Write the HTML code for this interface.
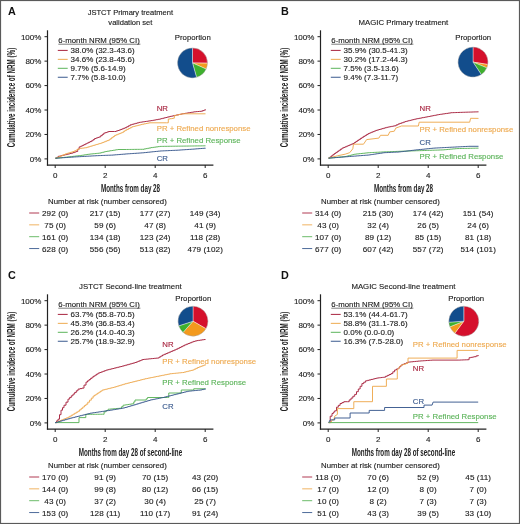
<!DOCTYPE html>
<html><head><meta charset="utf-8"><style>
html,body{margin:0;padding:0;background:#fff;}
body{width:520px;height:524px;overflow:hidden;}
svg{display:block;font-family:"Liberation Sans", sans-serif;filter:blur(0.2px);}
</style></head><body>
<svg width="520" height="524" viewBox="0 0 520 524">
<rect x="0" y="0" width="520" height="524" fill="#fff"/>
<text x="8.00" y="15.40" font-size="10.8" font-weight="bold" fill="#111">A</text>
<text x="130.40" y="15.35" font-size="7.55" text-anchor="middle" fill="#222" stroke="#222" stroke-width="0.13" font-weight="normal" >JSTCT Primary treatment</text>
<text x="130.40" y="24.95" font-size="7.55" text-anchor="middle" fill="#222" stroke="#222" stroke-width="0.13" font-weight="normal" >validation set</text>
<line x1="47.50" y1="30.30" x2="47.50" y2="165.60" stroke="#222" stroke-width="1.2"/>
<line x1="46.90" y1="165.20" x2="213.40" y2="165.20" stroke="#222" stroke-width="1.2"/>
<line x1="44.50" y1="36.70" x2="47.50" y2="36.70" stroke="#222" stroke-width="1.0"/>
<text x="41.40" y="39.52" font-size="8.0" text-anchor="end" fill="#222" stroke="#222" stroke-width="0.13" font-weight="normal" >100%</text>
<line x1="44.50" y1="61.14" x2="47.50" y2="61.14" stroke="#222" stroke-width="1.0"/>
<text x="41.40" y="63.96" font-size="8.0" text-anchor="end" fill="#222" stroke="#222" stroke-width="0.13" font-weight="normal" >80%</text>
<line x1="44.50" y1="85.58" x2="47.50" y2="85.58" stroke="#222" stroke-width="1.0"/>
<text x="41.40" y="88.40" font-size="8.0" text-anchor="end" fill="#222" stroke="#222" stroke-width="0.13" font-weight="normal" >60%</text>
<line x1="44.50" y1="110.02" x2="47.50" y2="110.02" stroke="#222" stroke-width="1.0"/>
<text x="41.40" y="112.84" font-size="8.0" text-anchor="end" fill="#222" stroke="#222" stroke-width="0.13" font-weight="normal" >40%</text>
<line x1="44.50" y1="134.46" x2="47.50" y2="134.46" stroke="#222" stroke-width="1.0"/>
<text x="41.40" y="137.28" font-size="8.0" text-anchor="end" fill="#222" stroke="#222" stroke-width="0.13" font-weight="normal" >20%</text>
<line x1="44.50" y1="158.90" x2="47.50" y2="158.90" stroke="#222" stroke-width="1.0"/>
<text x="41.40" y="161.72" font-size="8.0" text-anchor="end" fill="#222" stroke="#222" stroke-width="0.13" font-weight="normal" >0%</text>
<line x1="55.20" y1="165.00" x2="55.20" y2="168.00" stroke="#222" stroke-width="1.0"/>
<text x="55.20" y="178.22" font-size="8.0" text-anchor="middle" fill="#222" stroke="#222" stroke-width="0.13" font-weight="normal" >0</text>
<line x1="105.20" y1="165.00" x2="105.20" y2="168.00" stroke="#222" stroke-width="1.0"/>
<text x="105.20" y="178.22" font-size="8.0" text-anchor="middle" fill="#222" stroke="#222" stroke-width="0.13" font-weight="normal" >2</text>
<line x1="155.20" y1="165.00" x2="155.20" y2="168.00" stroke="#222" stroke-width="1.0"/>
<text x="155.20" y="178.22" font-size="8.0" text-anchor="middle" fill="#222" stroke="#222" stroke-width="0.13" font-weight="normal" >4</text>
<line x1="205.20" y1="165.00" x2="205.20" y2="168.00" stroke="#222" stroke-width="1.0"/>
<text x="205.20" y="178.22" font-size="8.0" text-anchor="middle" fill="#222" stroke="#222" stroke-width="0.13" font-weight="normal" >6</text>
<text transform="translate(130.50,191.82) scale(0.615,1)" x="0" y="0" font-size="10.2" font-weight="bold" text-anchor="middle" fill="#222">Months from day 28</text>
<text transform="translate(14.60,97.50) rotate(-90) scale(0.615,1)" x="0" y="0" font-size="10.2" font-weight="bold" text-anchor="middle" fill="#222">Cumulative incidence of NRM (%)</text>
<text x="58.30" y="43.04" font-size="7.8" text-anchor="start" fill="#222" stroke="#222" stroke-width="0.13" font-weight="normal" >6-month NRM (95% CI)</text>
<line x1="58.30" y1="44.20" x2="140.40" y2="44.20" stroke="#444" stroke-width="0.7"/>
<line x1="57.80" y1="50.40" x2="67.70" y2="50.40" stroke="#a8243f" stroke-width="1.0"/>
<text x="70.60" y="53.32" font-size="8.0" text-anchor="start" fill="#222" stroke="#222" stroke-width="0.13" font-weight="normal" >38.0% (32.3-43.6)</text>
<line x1="57.80" y1="59.35" x2="67.70" y2="59.35" stroke="#eeaa50" stroke-width="1.0"/>
<text x="70.60" y="62.27" font-size="8.0" text-anchor="start" fill="#222" stroke="#222" stroke-width="0.13" font-weight="normal" >34.6% (23.8-45.6)</text>
<line x1="57.80" y1="68.30" x2="67.70" y2="68.30" stroke="#5cb45a" stroke-width="1.0"/>
<text x="70.60" y="71.22" font-size="8.0" text-anchor="start" fill="#222" stroke="#222" stroke-width="0.13" font-weight="normal" >9.7% (5.6-14.9)</text>
<line x1="57.80" y1="77.25" x2="67.70" y2="77.25" stroke="#3a5a8e" stroke-width="1.0"/>
<text x="70.60" y="80.17" font-size="8.0" text-anchor="start" fill="#222" stroke="#222" stroke-width="0.13" font-weight="normal" >7.7% (5.8-10.0)</text>
<text x="192.80" y="40.04" font-size="7.8" text-anchor="middle" fill="#222" stroke="#222" stroke-width="0.13" font-weight="normal" >Proportion</text>
<path d="M192.50,62.90 L192.50,47.90 A15,15 0 0 1 207.50,63.14 Z" fill="#d5102c" stroke="#fff" stroke-width="0.4"/>
<path d="M192.50,62.90 L207.50,63.14 A15,15 0 0 1 206.17,69.07 Z" fill="#f39a1e" stroke="#fff" stroke-width="0.4"/>
<path d="M192.50,62.90 L206.17,69.07 A15,15 0 0 1 196.53,77.35 Z" fill="#3fb02e" stroke="#fff" stroke-width="0.4"/>
<path d="M192.50,62.90 L196.53,77.35 A15,15 0 1 1 192.50,47.90 Z" fill="#124d8c" stroke="#fff" stroke-width="0.4"/>
<circle cx="192.50" cy="62.90" r="15" fill="none" stroke="#333" stroke-opacity="0.5" stroke-width="0.4"/>
<polyline points="55.40,158.20 56.95,158.20 56.95,157.20 58.50,157.20 58.50,156.20 60.80,156.20 60.80,155.70 62.33,155.70 62.33,155.33 63.87,155.33 63.87,154.97 65.40,154.97 65.40,154.60 66.93,154.60 66.93,154.22 68.45,154.22 68.45,153.85 69.97,153.85 69.97,153.47 71.50,153.47 71.50,153.10 73.07,153.10 73.07,152.57 74.63,152.57 74.63,152.03 76.20,152.03 76.20,151.50 77.70,151.50 77.70,149.20 79.20,149.20 79.20,146.90 80.75,146.90 80.75,146.15 82.30,146.15 82.30,145.40 83.83,145.40 83.83,144.63 85.37,144.63 85.37,143.87 86.90,143.87 86.90,143.10 88.43,143.10 88.43,142.33 89.97,142.33 89.97,141.57 91.50,141.57 91.50,140.80 93.05,140.80 93.05,139.65 94.60,139.65 94.60,138.50 96.13,138.50 96.13,137.97 97.67,137.97 97.67,137.43 99.20,137.43 99.20,136.90 100.73,136.90 100.73,135.63 102.27,135.63 102.27,134.37 103.80,134.37 103.80,133.10 105.37,133.10 105.37,132.57 106.93,132.57 106.93,132.03 108.50,132.03 108.50,131.50 114.60,131.50 116.13,131.50 116.13,131.00 117.67,131.00 117.67,130.50 119.20,130.50 119.20,130.00 120.65,130.00 120.65,129.43 122.10,129.43 122.10,128.85 123.55,128.85 123.55,128.28 125.00,128.28 125.00,127.70 126.73,127.70 126.73,126.73 128.47,126.73 128.47,125.77 130.20,125.77 130.20,124.80 131.92,124.80 131.92,124.32 133.64,124.32 133.64,123.84 135.36,123.84 135.36,123.36 137.08,123.36 137.08,122.88 138.80,122.88 138.80,122.40 140.33,122.40 140.33,122.18 141.85,122.18 141.85,121.95 143.38,121.95 143.38,121.72 144.90,121.72 144.90,121.50 146.43,121.50 146.43,121.28 147.95,121.28 147.95,121.05 149.47,121.05 149.47,120.82 151.00,120.82 151.00,120.60 152.72,120.60 152.72,120.28 154.44,120.28 154.44,119.96 156.16,119.96 156.16,119.64 157.88,119.64 157.88,119.32 159.60,119.32 159.60,119.00 161.09,119.00 161.09,118.63 162.57,118.63 162.57,118.26 164.06,118.26 164.06,117.89 165.54,117.89 165.54,117.51 167.03,117.51 167.03,117.14 168.51,117.14 168.51,116.77 170.00,116.77 170.00,116.40 171.50,116.40 171.50,116.08 173.00,116.08 173.00,115.75 174.50,115.75 174.50,115.42 176.00,115.42 176.00,115.10 177.50,115.10 177.50,114.78 179.00,114.78 179.00,114.45 180.50,114.45 180.50,114.12 182.00,114.12 182.00,113.80 183.53,113.80 183.53,113.55 185.05,113.55 185.05,113.30 186.57,113.30 186.57,113.05 188.10,113.05 188.10,112.80 189.62,112.80 189.62,112.55 191.15,112.55 191.15,112.30 192.67,112.30 192.67,112.05 194.20,112.05 194.20,111.80 195.90,111.80 195.90,111.65 197.60,111.65 197.60,111.50 199.30,111.50 199.30,111.35 201.00,111.35 201.00,111.20 202.50,111.20 202.50,110.63 204.00,110.63 204.00,110.07 205.50,110.07 205.50,109.50" fill="none" stroke="#a8243f" stroke-width="0.95" stroke-linejoin="miter"/>
<polyline points="55.40,158.20 57.07,158.20 57.07,157.47 58.73,157.47 58.73,156.73 60.40,156.73 60.40,156.00 62.07,156.00 62.07,155.27 63.73,155.27 63.73,154.53 65.40,154.53 65.40,153.80 66.94,153.80 66.94,153.34 68.48,153.34 68.48,152.88 70.02,152.88 70.02,152.42 71.56,152.42 71.56,151.96 73.10,151.96 73.10,151.50 74.62,151.50 74.62,150.75 76.15,150.75 76.15,150.00 77.67,150.00 77.67,149.25 79.20,149.25 79.20,148.50 80.75,148.50 80.75,148.30 82.30,148.30 82.30,148.10 83.85,148.10 83.85,147.90 85.40,147.90 85.40,147.70 86.94,147.70 86.94,147.24 88.48,147.24 88.48,146.78 90.02,146.78 90.02,146.32 91.56,146.32 91.56,145.86 93.10,145.86 93.10,145.40 94.64,145.40 94.64,144.94 96.18,144.94 96.18,144.48 97.72,144.48 97.72,144.02 99.26,144.02 99.26,143.56 100.80,143.56 100.80,143.10 102.34,143.10 102.34,142.48 103.88,142.48 103.88,141.86 105.42,141.86 105.42,141.24 106.96,141.24 106.96,140.62 108.50,140.62 108.50,140.00 110.03,140.00 110.03,138.85 111.55,138.85 111.55,137.70 113.07,137.70 113.07,136.55 114.60,136.55 114.60,135.40 116.14,135.40 116.14,134.78 117.68,134.78 117.68,134.16 119.22,134.16 119.22,133.54 120.76,133.54 120.76,132.92 122.30,132.92 122.30,132.30 123.65,132.30 123.65,131.30 125.00,131.30 125.00,130.30 126.72,130.30 126.72,129.43 128.45,129.43 128.45,128.55 130.18,128.55 130.18,127.67 131.90,127.67 131.90,126.80 133.39,126.80 133.39,126.43 134.87,126.43 134.87,126.06 136.36,126.06 136.36,125.69 137.84,125.69 137.84,125.31 139.33,125.31 139.33,124.94 140.81,124.94 140.81,124.57 142.30,124.57 142.30,124.20 144.03,124.20 144.03,123.85 145.75,123.85 145.75,123.50 147.47,123.50 147.47,123.15 149.20,123.15 149.20,122.80 166.50,122.80 168.30,122.80 168.30,119.00 170.00,119.00 170.00,118.73 171.70,118.73 171.70,118.47 173.40,118.47 173.40,118.20 174.30,118.20 174.30,115.60 175.84,115.60 175.84,115.24 177.38,115.24 177.38,114.88 178.92,114.88 178.92,114.52 180.46,114.52 180.46,114.16 182.00,114.16 182.00,113.80 205.50,113.80" fill="none" stroke="#eeaa50" stroke-width="0.95" stroke-linejoin="miter"/>
<polyline points="55.40,158.20 57.07,158.20 57.07,158.03 58.73,158.03 58.73,157.87 60.40,157.87 60.40,157.70 62.07,157.70 62.07,157.53 63.73,157.53 63.73,157.37 65.40,157.37 65.40,157.20 66.94,157.20 66.94,157.02 68.48,157.02 68.48,156.84 70.02,156.84 70.02,156.66 71.56,156.66 71.56,156.48 73.10,156.48 73.10,156.30 74.64,156.30 74.64,156.12 76.18,156.12 76.18,155.94 77.72,155.94 77.72,155.76 79.26,155.76 79.26,155.58 80.80,155.58 80.80,155.40 82.34,155.40 82.34,155.16 83.88,155.16 83.88,154.92 85.42,154.92 85.42,154.68 86.96,154.68 86.96,154.44 88.50,154.44 88.50,154.20 90.03,154.20 90.03,154.04 91.56,154.04 91.56,153.89 93.09,153.89 93.09,153.73 94.61,153.73 94.61,153.57 96.14,153.57 96.14,153.41 97.67,153.41 97.67,153.26 99.20,153.26 99.20,153.10 100.75,153.10 100.75,152.70 102.30,152.70 102.30,152.30 103.85,152.30 103.85,151.90 105.40,151.90 105.40,151.50 106.94,151.50 106.94,151.25 108.48,151.25 108.48,151.00 110.01,151.00 110.01,150.75 111.55,150.75 111.55,150.50 113.09,150.50 113.09,150.25 114.62,150.25 114.62,150.00 116.16,150.00 116.16,149.75 117.70,149.75 117.70,149.50 125.00,149.50 126.57,149.50 126.57,149.48 128.15,149.48 128.15,149.46 129.72,149.46 129.72,149.45 131.29,149.45 131.29,149.43 132.86,149.43 132.86,149.41 134.44,149.41 134.44,149.39 136.01,149.39 136.01,149.37 137.58,149.37 137.58,149.35 139.15,149.35 139.15,149.34 140.73,149.34 140.73,149.32 142.30,149.32 142.30,149.30 144.04,149.30 144.04,148.96 145.78,148.96 145.78,148.62 147.52,148.62 147.52,148.28 149.26,148.28 149.26,147.94 151.00,147.94 151.00,147.60 152.72,147.60 152.72,147.36 154.44,147.36 154.44,147.12 156.16,147.12 156.16,146.88 157.88,146.88 157.88,146.64 159.60,146.64 159.60,146.40 161.18,146.40 161.18,146.38 162.77,146.38 162.77,146.36 164.35,146.36 164.35,146.34 165.93,146.34 165.93,146.32 167.51,146.32 167.51,146.30 169.10,146.30 169.10,146.28 170.68,146.28 170.68,146.26 172.26,146.26 172.26,146.23 173.84,146.23 173.84,146.21 175.43,146.21 175.43,146.19 177.01,146.19 177.01,146.17 178.59,146.17 178.59,146.15 180.18,146.15 180.18,146.13 181.76,146.13 181.76,146.11 183.34,146.11 183.34,146.09 184.92,146.09 184.92,146.07 186.51,146.07 186.51,146.05 188.09,146.05 188.09,146.03 189.67,146.03 189.67,146.01 191.26,146.01 191.26,145.99 192.84,145.99 192.84,145.97 194.42,145.97 194.42,145.94 196.00,145.94 196.00,145.92 197.59,145.92 197.59,145.90 199.17,145.90 199.17,145.88 200.75,145.88 200.75,145.86 202.33,145.86 202.33,145.84 203.92,145.84 203.92,145.82 205.50,145.82 205.50,145.80" fill="none" stroke="#5cb45a" stroke-width="0.95" stroke-linejoin="miter"/>
<polyline points="55.40,158.20 57.00,158.20 57.00,158.09 58.60,158.09 58.60,157.98 60.20,157.98 60.20,157.87 61.80,157.87 61.80,157.76 63.40,157.76 63.40,157.65 65.00,157.65 65.00,157.55 66.60,157.55 66.60,157.44 68.20,157.44 68.20,157.33 69.80,157.33 69.80,157.22 71.40,157.22 71.40,157.11 73.00,157.11 73.00,157.00 74.64,157.00 74.64,156.91 76.29,156.91 76.29,156.81 77.93,156.81 77.93,156.72 79.57,156.72 79.57,156.63 81.21,156.63 81.21,156.54 82.86,156.54 82.86,156.44 84.50,156.44 84.50,156.35 86.14,156.35 86.14,156.26 87.79,156.26 87.79,156.16 89.43,156.16 89.43,156.07 91.07,156.07 91.07,155.98 92.71,155.98 92.71,155.89 94.36,155.89 94.36,155.79 96.00,155.79 96.00,155.70 97.55,155.70 97.55,155.64 99.10,155.64 99.10,155.58 100.65,155.58 100.65,155.52 102.20,155.52 102.20,155.46 103.75,155.46 103.75,155.40 105.30,155.40 105.30,155.34 106.85,155.34 106.85,155.28 108.40,155.28 108.40,155.22 109.95,155.22 109.95,155.16 111.50,155.16 111.50,155.10 113.19,155.10 113.19,154.96 114.88,154.96 114.88,154.82 116.56,154.82 116.56,154.69 118.25,154.69 118.25,154.55 119.94,154.55 119.94,154.41 121.62,154.41 121.62,154.28 123.31,154.28 123.31,154.14 125.00,154.14 125.00,154.00 126.57,154.00 126.57,153.89 128.15,153.89 128.15,153.78 129.72,153.78 129.72,153.67 131.29,153.67 131.29,153.56 132.86,153.56 132.86,153.45 134.44,153.45 134.44,153.35 136.01,153.35 136.01,153.24 137.58,153.24 137.58,153.13 139.15,153.13 139.15,153.02 140.73,153.02 140.73,152.91 142.30,152.91 142.30,152.80 143.87,152.80 143.87,152.64 145.45,152.64 145.45,152.47 147.02,152.47 147.02,152.31 148.59,152.31 148.59,152.15 150.16,152.15 150.16,151.98 151.74,151.98 151.74,151.82 153.31,151.82 153.31,151.65 154.88,151.65 154.88,151.49 156.45,151.49 156.45,151.33 158.03,151.33 158.03,151.16 159.60,151.16 159.60,151.00 161.18,151.00 161.18,150.93 162.76,150.93 162.76,150.85 164.35,150.85 164.35,150.78 165.93,150.78 165.93,150.71 167.51,150.71 167.51,150.64 169.09,150.64 169.09,150.56 170.67,150.56 170.67,150.49 172.25,150.49 172.25,150.42 173.84,150.42 173.84,150.35 175.42,150.35 175.42,150.27 177.00,150.27 177.00,150.20 178.56,150.20 178.56,150.09 180.13,150.09 180.13,149.98 181.69,149.98 181.69,149.87 183.25,149.87 183.25,149.76 184.82,149.76 184.82,149.65 186.38,149.65 186.38,149.55 187.95,149.55 187.95,149.44 189.51,149.44 189.51,149.33 191.07,149.33 191.07,149.22 192.64,149.22 192.64,149.11 194.20,149.11 194.20,149.00 195.81,149.00 195.81,148.87 197.43,148.87 197.43,148.74 199.04,148.74 199.04,148.61 200.66,148.61 200.66,148.49 202.27,148.49 202.27,148.36 203.89,148.36 203.89,148.23 205.50,148.23 205.50,148.10" fill="none" stroke="#3a5a8e" stroke-width="0.95" stroke-linejoin="miter"/>
<text x="156.70" y="111.14" font-size="7.8" text-anchor="start" fill="#a8243f" stroke="#a8243f" stroke-width="0.13" font-weight="normal" >NR</text>
<text x="156.70" y="131.04" font-size="7.8" text-anchor="start" fill="#eeaa50" stroke="#eeaa50" stroke-width="0.13" font-weight="normal" >PR + Refined nonresponse</text>
<text x="156.70" y="143.24" font-size="7.8" text-anchor="start" fill="#5cb45a" stroke="#5cb45a" stroke-width="0.13" font-weight="normal" >PR + Refined Response</text>
<text x="156.70" y="160.94" font-size="7.8" text-anchor="start" fill="#3a5a8e" stroke="#3a5a8e" stroke-width="0.13" font-weight="normal" >CR</text>
<text x="48.00" y="203.54" font-size="7.8" text-anchor="start" fill="#222" stroke="#222" stroke-width="0.13" font-weight="normal" >Number at risk (number censored)</text>
<line x1="29.20" y1="213.00" x2="39.20" y2="213.00" stroke="#a8243f" stroke-width="0.9"/>
<text x="55.20" y="215.95" font-size="8.1" text-anchor="middle" fill="#222" stroke="#222" stroke-width="0.13" font-weight="normal" letter-spacing="0.1">292 (0)</text>
<text x="105.20" y="215.95" font-size="8.1" text-anchor="middle" fill="#222" stroke="#222" stroke-width="0.13" font-weight="normal" letter-spacing="0.1">217 (15)</text>
<text x="155.20" y="215.95" font-size="8.1" text-anchor="middle" fill="#222" stroke="#222" stroke-width="0.13" font-weight="normal" letter-spacing="0.1">177 (27)</text>
<text x="205.20" y="215.95" font-size="8.1" text-anchor="middle" fill="#222" stroke="#222" stroke-width="0.13" font-weight="normal" letter-spacing="0.1">149 (34)</text>
<line x1="29.20" y1="224.85" x2="39.20" y2="224.85" stroke="#eeaa50" stroke-width="0.9"/>
<text x="55.20" y="227.80" font-size="8.1" text-anchor="middle" fill="#222" stroke="#222" stroke-width="0.13" font-weight="normal" letter-spacing="0.1">75 (0)</text>
<text x="105.20" y="227.80" font-size="8.1" text-anchor="middle" fill="#222" stroke="#222" stroke-width="0.13" font-weight="normal" letter-spacing="0.1">59 (6)</text>
<text x="155.20" y="227.80" font-size="8.1" text-anchor="middle" fill="#222" stroke="#222" stroke-width="0.13" font-weight="normal" letter-spacing="0.1">47 (8)</text>
<text x="205.20" y="227.80" font-size="8.1" text-anchor="middle" fill="#222" stroke="#222" stroke-width="0.13" font-weight="normal" letter-spacing="0.1">41 (9)</text>
<line x1="29.20" y1="236.70" x2="39.20" y2="236.70" stroke="#5cb45a" stroke-width="0.9"/>
<text x="55.20" y="239.65" font-size="8.1" text-anchor="middle" fill="#222" stroke="#222" stroke-width="0.13" font-weight="normal" letter-spacing="0.1">161 (0)</text>
<text x="105.20" y="239.65" font-size="8.1" text-anchor="middle" fill="#222" stroke="#222" stroke-width="0.13" font-weight="normal" letter-spacing="0.1">134 (18)</text>
<text x="155.20" y="239.65" font-size="8.1" text-anchor="middle" fill="#222" stroke="#222" stroke-width="0.13" font-weight="normal" letter-spacing="0.1">123 (24)</text>
<text x="205.20" y="239.65" font-size="8.1" text-anchor="middle" fill="#222" stroke="#222" stroke-width="0.13" font-weight="normal" letter-spacing="0.1">118 (28)</text>
<line x1="29.20" y1="248.55" x2="39.20" y2="248.55" stroke="#3a5a8e" stroke-width="0.9"/>
<text x="55.20" y="251.50" font-size="8.1" text-anchor="middle" fill="#222" stroke="#222" stroke-width="0.13" font-weight="normal" letter-spacing="0.1">628 (0)</text>
<text x="105.20" y="251.50" font-size="8.1" text-anchor="middle" fill="#222" stroke="#222" stroke-width="0.13" font-weight="normal" letter-spacing="0.1">556 (56)</text>
<text x="155.20" y="251.50" font-size="8.1" text-anchor="middle" fill="#222" stroke="#222" stroke-width="0.13" font-weight="normal" letter-spacing="0.1">513 (82)</text>
<text x="205.20" y="251.50" font-size="8.1" text-anchor="middle" fill="#222" stroke="#222" stroke-width="0.13" font-weight="normal" letter-spacing="0.1">479 (102)</text>
<text x="281.00" y="15.40" font-size="10.8" font-weight="bold" fill="#111">B</text>
<text x="403.40" y="24.94" font-size="7.8" text-anchor="middle" fill="#222" stroke="#222" stroke-width="0.13" font-weight="normal" >MAGIC Primary treatment</text>
<line x1="320.50" y1="30.30" x2="320.50" y2="165.60" stroke="#222" stroke-width="1.2"/>
<line x1="319.90" y1="165.20" x2="486.40" y2="165.20" stroke="#222" stroke-width="1.2"/>
<line x1="317.50" y1="36.70" x2="320.50" y2="36.70" stroke="#222" stroke-width="1.0"/>
<text x="314.40" y="39.52" font-size="8.0" text-anchor="end" fill="#222" stroke="#222" stroke-width="0.13" font-weight="normal" >100%</text>
<line x1="317.50" y1="61.14" x2="320.50" y2="61.14" stroke="#222" stroke-width="1.0"/>
<text x="314.40" y="63.96" font-size="8.0" text-anchor="end" fill="#222" stroke="#222" stroke-width="0.13" font-weight="normal" >80%</text>
<line x1="317.50" y1="85.58" x2="320.50" y2="85.58" stroke="#222" stroke-width="1.0"/>
<text x="314.40" y="88.40" font-size="8.0" text-anchor="end" fill="#222" stroke="#222" stroke-width="0.13" font-weight="normal" >60%</text>
<line x1="317.50" y1="110.02" x2="320.50" y2="110.02" stroke="#222" stroke-width="1.0"/>
<text x="314.40" y="112.84" font-size="8.0" text-anchor="end" fill="#222" stroke="#222" stroke-width="0.13" font-weight="normal" >40%</text>
<line x1="317.50" y1="134.46" x2="320.50" y2="134.46" stroke="#222" stroke-width="1.0"/>
<text x="314.40" y="137.28" font-size="8.0" text-anchor="end" fill="#222" stroke="#222" stroke-width="0.13" font-weight="normal" >20%</text>
<line x1="317.50" y1="158.90" x2="320.50" y2="158.90" stroke="#222" stroke-width="1.0"/>
<text x="314.40" y="161.72" font-size="8.0" text-anchor="end" fill="#222" stroke="#222" stroke-width="0.13" font-weight="normal" >0%</text>
<line x1="328.20" y1="165.00" x2="328.20" y2="168.00" stroke="#222" stroke-width="1.0"/>
<text x="328.20" y="178.22" font-size="8.0" text-anchor="middle" fill="#222" stroke="#222" stroke-width="0.13" font-weight="normal" >0</text>
<line x1="378.20" y1="165.00" x2="378.20" y2="168.00" stroke="#222" stroke-width="1.0"/>
<text x="378.20" y="178.22" font-size="8.0" text-anchor="middle" fill="#222" stroke="#222" stroke-width="0.13" font-weight="normal" >2</text>
<line x1="428.20" y1="165.00" x2="428.20" y2="168.00" stroke="#222" stroke-width="1.0"/>
<text x="428.20" y="178.22" font-size="8.0" text-anchor="middle" fill="#222" stroke="#222" stroke-width="0.13" font-weight="normal" >4</text>
<line x1="478.20" y1="165.00" x2="478.20" y2="168.00" stroke="#222" stroke-width="1.0"/>
<text x="478.20" y="178.22" font-size="8.0" text-anchor="middle" fill="#222" stroke="#222" stroke-width="0.13" font-weight="normal" >6</text>
<text transform="translate(403.50,191.82) scale(0.615,1)" x="0" y="0" font-size="10.2" font-weight="bold" text-anchor="middle" fill="#222">Months from day 28</text>
<text transform="translate(287.60,97.50) rotate(-90) scale(0.615,1)" x="0" y="0" font-size="10.2" font-weight="bold" text-anchor="middle" fill="#222">Cumulative incidence of NRM (%)</text>
<text x="331.30" y="43.04" font-size="7.8" text-anchor="start" fill="#222" stroke="#222" stroke-width="0.13" font-weight="normal" >6-month NRM (95% CI)</text>
<line x1="331.30" y1="44.20" x2="413.40" y2="44.20" stroke="#444" stroke-width="0.7"/>
<line x1="330.80" y1="50.40" x2="340.70" y2="50.40" stroke="#a8243f" stroke-width="1.0"/>
<text x="343.60" y="53.32" font-size="8.0" text-anchor="start" fill="#222" stroke="#222" stroke-width="0.13" font-weight="normal" >35.9% (30.5-41.3)</text>
<line x1="330.80" y1="59.35" x2="340.70" y2="59.35" stroke="#eeaa50" stroke-width="1.0"/>
<text x="343.60" y="62.27" font-size="8.0" text-anchor="start" fill="#222" stroke="#222" stroke-width="0.13" font-weight="normal" >30.2% (17.2-44.3)</text>
<line x1="330.80" y1="68.30" x2="340.70" y2="68.30" stroke="#5cb45a" stroke-width="1.0"/>
<text x="343.60" y="71.22" font-size="8.0" text-anchor="start" fill="#222" stroke="#222" stroke-width="0.13" font-weight="normal" >7.5% (3.5-13.6)</text>
<line x1="330.80" y1="77.25" x2="340.70" y2="77.25" stroke="#3a5a8e" stroke-width="1.0"/>
<text x="343.60" y="80.17" font-size="8.0" text-anchor="start" fill="#222" stroke="#222" stroke-width="0.13" font-weight="normal" >9.4% (7.3-11.7)</text>
<text x="473.20" y="39.64" font-size="7.8" text-anchor="middle" fill="#222" stroke="#222" stroke-width="0.13" font-weight="normal" >Proportion</text>
<path d="M473.00,62.10 L473.00,47.10 A15,15 0 0 1 487.81,64.46 Z" fill="#d5102c" stroke="#fff" stroke-width="0.4"/>
<path d="M473.00,62.10 L487.81,64.46 A15,15 0 0 1 486.84,67.87 Z" fill="#f39a1e" stroke="#fff" stroke-width="0.4"/>
<path d="M473.00,62.10 L486.84,67.87 A15,15 0 0 1 481.30,74.59 Z" fill="#3fb02e" stroke="#fff" stroke-width="0.4"/>
<path d="M473.00,62.10 L481.30,74.59 A15,15 0 1 1 473.00,47.10 Z" fill="#124d8c" stroke="#fff" stroke-width="0.4"/>
<circle cx="473.00" cy="62.10" r="15" fill="none" stroke="#333" stroke-opacity="0.5" stroke-width="0.4"/>
<polyline points="328.50,158.10 329.95,158.10 329.95,156.95 331.40,156.95 331.40,155.80 332.85,155.80 332.85,154.65 334.30,154.65 334.30,153.50 335.84,153.50 335.84,152.42 337.38,152.42 337.38,151.34 338.92,151.34 338.92,150.26 340.46,150.26 340.46,149.18 342.00,149.18 342.00,148.10 343.54,148.10 343.54,147.44 345.09,147.44 345.09,146.79 346.63,146.79 346.63,146.13 348.17,146.13 348.17,145.47 349.71,145.47 349.71,144.81 351.26,144.81 351.26,144.16 352.80,144.16 352.80,143.50 354.33,143.50 354.33,142.47 355.87,142.47 355.87,141.43 357.40,141.43 357.40,140.40 358.93,140.40 358.93,139.37 360.47,139.37 360.47,138.33 362.00,138.33 362.00,137.30 363.55,137.30 363.55,136.35 365.10,136.35 365.10,135.40 366.65,135.40 366.65,134.45 368.20,134.45 368.20,133.50 369.72,133.50 369.72,132.88 371.24,132.88 371.24,132.26 372.76,132.26 372.76,131.64 374.28,131.64 374.28,131.02 375.80,131.02 375.80,130.40 377.34,130.40 377.34,129.96 378.89,129.96 378.89,129.51 380.43,129.51 380.43,129.07 381.97,129.07 381.97,128.63 383.51,128.63 383.51,128.19 385.06,128.19 385.06,127.74 386.60,127.74 386.60,127.30 388.14,127.30 388.14,127.00 389.68,127.00 389.68,126.70 391.22,126.70 391.22,126.40 392.76,126.40 392.76,126.10 394.30,126.10 394.30,125.80 396.15,125.80 396.15,124.90 398.00,124.90 398.00,124.00 399.77,124.00 399.77,123.38 401.55,123.38 401.55,122.75 403.33,122.75 403.33,122.12 405.10,122.12 405.10,121.50 406.61,121.50 406.61,121.13 408.13,121.13 408.13,120.76 409.64,120.76 409.64,120.39 411.16,120.39 411.16,120.01 412.67,120.01 412.67,119.64 414.19,119.64 414.19,119.27 415.70,119.27 415.70,118.90 417.28,118.90 417.28,118.60 418.86,118.60 418.86,118.30 420.43,118.30 420.43,118.00 422.01,118.00 422.01,117.70 423.59,117.70 423.59,117.40 425.17,117.40 425.17,117.10 426.74,117.10 426.74,116.80 428.32,116.80 428.32,116.50 429.90,116.50 429.90,116.20 431.37,116.20 431.37,115.92 432.83,115.92 432.83,115.63 434.30,115.63 434.30,115.35 435.77,115.35 435.77,115.07 437.23,115.07 437.23,114.78 438.70,114.78 438.70,114.50 440.25,114.50 440.25,114.28 441.80,114.28 441.80,114.05 443.35,114.05 443.35,113.83 444.90,113.83 444.90,113.60 446.45,113.60 446.45,113.38 448.00,113.38 448.00,113.15 449.55,113.15 449.55,112.92 451.10,112.92 451.10,112.70 452.68,112.70 452.68,112.64 454.26,112.64 454.26,112.59 455.83,112.59 455.83,112.53 457.41,112.53 457.41,112.48 458.99,112.48 458.99,112.42 460.57,112.42 460.57,112.37 462.14,112.37 462.14,112.31 463.72,112.31 463.72,112.26 465.30,112.26 465.30,112.20 466.95,112.20 466.95,112.15 468.60,112.15 468.60,112.10 470.25,112.10 470.25,112.05 471.90,112.05 471.90,112.00 473.55,112.00 473.55,111.95 475.20,111.95 475.20,111.90 476.85,111.90 476.85,111.85 478.50,111.85 478.50,111.80" fill="none" stroke="#a8243f" stroke-width="0.95" stroke-linejoin="miter"/>
<polyline points="328.50,158.10 337.40,155.80 345.10,154.20 349.70,152.70 352.80,148.80 353.50,144.20 363.50,144.20 366.60,139.60 378.90,138.10 380.50,135.30 388.20,135.30 389.70,131.90 394.30,131.20 395.80,128.10 401.50,126.00 418.40,126.00 419.20,122.20 469.70,122.20 470.60,118.30 478.50,118.40" fill="none" stroke="#eeaa50" stroke-width="0.95" stroke-linejoin="miter"/>
<polyline points="328.50,158.10 330.15,158.10 330.15,157.94 331.80,157.94 331.80,157.78 333.45,157.78 333.45,157.62 335.10,157.62 335.10,157.46 336.75,157.46 336.75,157.30 338.40,157.30 338.40,157.14 340.05,157.14 340.05,156.98 341.70,156.98 341.70,156.82 343.35,156.82 343.35,156.66 345.00,156.66 345.00,156.50 346.55,156.50 346.55,156.12 348.10,156.12 348.10,155.73 349.65,155.73 349.65,155.35 351.20,155.35 351.20,154.97 352.75,154.97 352.75,154.58 354.30,154.58 354.30,154.20 355.84,154.20 355.84,154.03 357.39,154.03 357.39,153.87 358.93,153.87 358.93,153.70 360.48,153.70 360.48,153.53 362.02,153.53 362.02,153.37 363.57,153.37 363.57,153.20 365.11,153.20 365.11,153.03 366.66,153.03 366.66,152.87 368.20,152.87 368.20,152.70 369.73,152.70 369.73,152.62 371.26,152.62 371.26,152.54 372.79,152.54 372.79,152.46 374.32,152.46 374.32,152.38 375.85,152.38 375.85,152.30 377.38,152.30 377.38,152.22 378.91,152.22 378.91,152.14 380.44,152.14 380.44,152.06 381.97,152.06 381.97,151.98 383.50,151.98 383.50,151.90 385.04,151.90 385.04,151.84 386.58,151.84 386.58,151.78 388.12,151.78 388.12,151.72 389.67,151.72 389.67,151.67 391.21,151.67 391.21,151.61 392.75,151.61 392.75,151.55 394.29,151.55 394.29,151.49 395.83,151.49 395.83,151.43 397.38,151.43 397.38,151.38 398.92,151.38 398.92,151.32 400.46,151.32 400.46,151.26 402.00,151.26 402.00,151.20 403.61,151.20 403.61,151.15 405.22,151.15 405.22,151.10 406.82,151.10 406.82,151.04 408.43,151.04 408.43,150.99 410.04,150.99 410.04,150.94 411.65,150.94 411.65,150.89 413.26,150.89 413.26,150.84 414.86,150.84 414.86,150.78 416.47,150.78 416.47,150.73 418.08,150.73 418.08,150.68 419.69,150.68 419.69,150.63 421.30,150.63 421.30,150.58 422.90,150.58 422.90,150.52 424.51,150.52 424.51,150.47 426.12,150.47 426.12,150.42 427.73,150.42 427.73,150.37 429.34,150.37 429.34,150.32 430.94,150.32 430.94,150.26 432.55,150.26 432.55,150.21 434.16,150.21 434.16,150.16 435.77,150.16 435.77,150.11 437.38,150.11 437.38,150.06 438.98,150.06 438.98,150.00 440.59,150.00 440.59,149.95 442.20,149.95 442.20,149.90 443.78,149.90 443.78,149.76 445.36,149.76 445.36,149.61 446.93,149.61 446.93,149.47 448.51,149.47 448.51,149.32 450.09,149.32 450.09,149.18 451.67,149.18 451.67,149.03 453.24,149.03 453.24,148.89 454.82,148.89 454.82,148.74 456.40,148.74 456.40,148.60 457.98,148.60 457.98,148.56 459.56,148.56 459.56,148.53 461.14,148.53 461.14,148.49 462.71,148.49 462.71,148.46 464.29,148.46 464.29,148.42 465.87,148.42 465.87,148.39 467.45,148.39 467.45,148.35 469.03,148.35 469.03,148.31 470.61,148.31 470.61,148.28 472.19,148.28 472.19,148.24 473.76,148.24 473.76,148.21 475.34,148.21 475.34,148.17 476.92,148.17 476.92,148.14 478.50,148.14 478.50,148.10" fill="none" stroke="#5cb45a" stroke-width="0.95" stroke-linejoin="miter"/>
<polyline points="328.50,158.10 330.12,158.10 330.12,157.97 331.74,157.97 331.74,157.85 333.36,157.85 333.36,157.72 334.98,157.72 334.98,157.59 336.60,157.59 336.60,157.47 338.22,157.47 338.22,157.34 339.84,157.34 339.84,157.21 341.46,157.21 341.46,157.09 343.08,157.09 343.08,156.96 344.70,156.96 344.70,156.83 346.32,156.83 346.32,156.71 347.94,156.71 347.94,156.58 349.56,156.58 349.56,156.45 351.18,156.45 351.18,156.33 352.80,156.33 352.80,156.20 354.34,156.20 354.34,156.08 355.88,156.08 355.88,155.96 357.42,155.96 357.42,155.84 358.96,155.84 358.96,155.72 360.50,155.72 360.50,155.60 362.04,155.60 362.04,155.48 363.58,155.48 363.58,155.36 365.12,155.36 365.12,155.24 366.66,155.24 366.66,155.12 368.20,155.12 368.20,155.00 369.73,155.00 369.73,154.77 371.26,154.77 371.26,154.54 372.79,154.54 372.79,154.31 374.32,154.31 374.32,154.08 375.85,154.08 375.85,153.85 377.38,153.85 377.38,153.62 378.91,153.62 378.91,153.39 380.44,153.39 380.44,153.16 381.97,153.16 381.97,152.93 383.50,152.93 383.50,152.70 385.11,152.70 385.11,152.62 386.72,152.62 386.72,152.54 388.33,152.54 388.33,152.47 389.94,152.47 389.94,152.39 391.56,152.39 391.56,152.31 393.17,152.31 393.17,152.23 394.78,152.23 394.78,152.16 396.39,152.16 396.39,152.08 398.00,152.08 398.00,152.00 399.61,152.00 399.61,151.81 401.22,151.81 401.22,151.62 402.83,151.62 402.83,151.43 404.44,151.43 404.44,151.24 406.05,151.24 406.05,151.05 407.65,151.05 407.65,150.85 409.26,150.85 409.26,150.66 410.87,150.66 410.87,150.47 412.48,150.47 412.48,150.28 414.09,150.28 414.09,150.09 415.70,150.09 415.70,149.90 417.31,149.90 417.31,149.74 418.92,149.74 418.92,149.57 420.53,149.57 420.53,149.41 422.14,149.41 422.14,149.25 423.75,149.25 423.75,149.08 425.35,149.08 425.35,148.92 426.96,148.92 426.96,148.75 428.57,148.75 428.57,148.59 430.18,148.59 430.18,148.43 431.79,148.43 431.79,148.26 433.40,148.26 433.40,148.10 435.01,148.10 435.01,148.02 436.62,148.02 436.62,147.94 438.23,147.94 438.23,147.85 439.84,147.85 439.84,147.77 441.45,147.77 441.45,147.69 443.05,147.69 443.05,147.61 444.66,147.61 444.66,147.53 446.27,147.53 446.27,147.45 447.88,147.45 447.88,147.36 449.49,147.36 449.49,147.28 451.10,147.28 451.10,147.20 452.71,147.20 452.71,147.12 454.32,147.12 454.32,147.04 455.93,147.04 455.93,146.95 457.54,146.95 457.54,146.87 459.15,146.87 459.15,146.79 460.75,146.79 460.75,146.71 462.36,146.71 462.36,146.63 463.97,146.63 463.97,146.55 465.58,146.55 465.58,146.46 467.19,146.46 467.19,146.38 468.80,146.38 468.80,146.30 478.50,146.30" fill="none" stroke="#3a5a8e" stroke-width="0.95" stroke-linejoin="miter"/>
<text x="419.50" y="111.14" font-size="7.8" text-anchor="start" fill="#a8243f" stroke="#a8243f" stroke-width="0.13" font-weight="normal" >NR</text>
<text x="419.50" y="131.84" font-size="7.8" text-anchor="start" fill="#eeaa50" stroke="#eeaa50" stroke-width="0.13" font-weight="normal" >PR + Refined nonresponse</text>
<text x="419.50" y="144.74" font-size="7.8" text-anchor="start" fill="#3a5a8e" stroke="#3a5a8e" stroke-width="0.13" font-weight="normal" >CR</text>
<text x="419.50" y="159.44" font-size="7.8" text-anchor="start" fill="#5cb45a" stroke="#5cb45a" stroke-width="0.13" font-weight="normal" >PR + Refined Response</text>
<text x="321.00" y="203.54" font-size="7.8" text-anchor="start" fill="#222" stroke="#222" stroke-width="0.13" font-weight="normal" >Number at risk (number censored)</text>
<line x1="302.20" y1="213.00" x2="312.20" y2="213.00" stroke="#a8243f" stroke-width="0.9"/>
<text x="328.20" y="215.95" font-size="8.1" text-anchor="middle" fill="#222" stroke="#222" stroke-width="0.13" font-weight="normal" letter-spacing="0.1">314 (0)</text>
<text x="378.20" y="215.95" font-size="8.1" text-anchor="middle" fill="#222" stroke="#222" stroke-width="0.13" font-weight="normal" letter-spacing="0.1">215 (30)</text>
<text x="428.20" y="215.95" font-size="8.1" text-anchor="middle" fill="#222" stroke="#222" stroke-width="0.13" font-weight="normal" letter-spacing="0.1">174 (42)</text>
<text x="478.20" y="215.95" font-size="8.1" text-anchor="middle" fill="#222" stroke="#222" stroke-width="0.13" font-weight="normal" letter-spacing="0.1">151 (54)</text>
<line x1="302.20" y1="224.85" x2="312.20" y2="224.85" stroke="#eeaa50" stroke-width="0.9"/>
<text x="328.20" y="227.80" font-size="8.1" text-anchor="middle" fill="#222" stroke="#222" stroke-width="0.13" font-weight="normal" letter-spacing="0.1">43 (0)</text>
<text x="378.20" y="227.80" font-size="8.1" text-anchor="middle" fill="#222" stroke="#222" stroke-width="0.13" font-weight="normal" letter-spacing="0.1">32 (4)</text>
<text x="428.20" y="227.80" font-size="8.1" text-anchor="middle" fill="#222" stroke="#222" stroke-width="0.13" font-weight="normal" letter-spacing="0.1">26 (5)</text>
<text x="478.20" y="227.80" font-size="8.1" text-anchor="middle" fill="#222" stroke="#222" stroke-width="0.13" font-weight="normal" letter-spacing="0.1">24 (6)</text>
<line x1="302.20" y1="236.70" x2="312.20" y2="236.70" stroke="#5cb45a" stroke-width="0.9"/>
<text x="328.20" y="239.65" font-size="8.1" text-anchor="middle" fill="#222" stroke="#222" stroke-width="0.13" font-weight="normal" letter-spacing="0.1">107 (0)</text>
<text x="378.20" y="239.65" font-size="8.1" text-anchor="middle" fill="#222" stroke="#222" stroke-width="0.13" font-weight="normal" letter-spacing="0.1">89 (12)</text>
<text x="428.20" y="239.65" font-size="8.1" text-anchor="middle" fill="#222" stroke="#222" stroke-width="0.13" font-weight="normal" letter-spacing="0.1">85 (15)</text>
<text x="478.20" y="239.65" font-size="8.1" text-anchor="middle" fill="#222" stroke="#222" stroke-width="0.13" font-weight="normal" letter-spacing="0.1">81 (18)</text>
<line x1="302.20" y1="248.55" x2="312.20" y2="248.55" stroke="#3a5a8e" stroke-width="0.9"/>
<text x="328.20" y="251.50" font-size="8.1" text-anchor="middle" fill="#222" stroke="#222" stroke-width="0.13" font-weight="normal" letter-spacing="0.1">677 (0)</text>
<text x="378.20" y="251.50" font-size="8.1" text-anchor="middle" fill="#222" stroke="#222" stroke-width="0.13" font-weight="normal" letter-spacing="0.1">607 (42)</text>
<text x="428.20" y="251.50" font-size="8.1" text-anchor="middle" fill="#222" stroke="#222" stroke-width="0.13" font-weight="normal" letter-spacing="0.1">557 (72)</text>
<text x="478.20" y="251.50" font-size="8.1" text-anchor="middle" fill="#222" stroke="#222" stroke-width="0.13" font-weight="normal" letter-spacing="0.1">514 (101)</text>
<text x="8.00" y="279.40" font-size="10.8" font-weight="bold" fill="#111">C</text>
<text x="130.40" y="288.94" font-size="7.8" text-anchor="middle" fill="#222" stroke="#222" stroke-width="0.13" font-weight="normal" >JSTCT Second-line treatment</text>
<line x1="47.50" y1="294.30" x2="47.50" y2="429.60" stroke="#222" stroke-width="1.2"/>
<line x1="46.90" y1="429.20" x2="213.40" y2="429.20" stroke="#222" stroke-width="1.2"/>
<line x1="44.50" y1="300.70" x2="47.50" y2="300.70" stroke="#222" stroke-width="1.0"/>
<text x="41.40" y="303.52" font-size="8.0" text-anchor="end" fill="#222" stroke="#222" stroke-width="0.13" font-weight="normal" >100%</text>
<line x1="44.50" y1="325.14" x2="47.50" y2="325.14" stroke="#222" stroke-width="1.0"/>
<text x="41.40" y="327.96" font-size="8.0" text-anchor="end" fill="#222" stroke="#222" stroke-width="0.13" font-weight="normal" >80%</text>
<line x1="44.50" y1="349.58" x2="47.50" y2="349.58" stroke="#222" stroke-width="1.0"/>
<text x="41.40" y="352.40" font-size="8.0" text-anchor="end" fill="#222" stroke="#222" stroke-width="0.13" font-weight="normal" >60%</text>
<line x1="44.50" y1="374.02" x2="47.50" y2="374.02" stroke="#222" stroke-width="1.0"/>
<text x="41.40" y="376.84" font-size="8.0" text-anchor="end" fill="#222" stroke="#222" stroke-width="0.13" font-weight="normal" >40%</text>
<line x1="44.50" y1="398.46" x2="47.50" y2="398.46" stroke="#222" stroke-width="1.0"/>
<text x="41.40" y="401.28" font-size="8.0" text-anchor="end" fill="#222" stroke="#222" stroke-width="0.13" font-weight="normal" >20%</text>
<line x1="44.50" y1="422.90" x2="47.50" y2="422.90" stroke="#222" stroke-width="1.0"/>
<text x="41.40" y="425.72" font-size="8.0" text-anchor="end" fill="#222" stroke="#222" stroke-width="0.13" font-weight="normal" >0%</text>
<line x1="55.20" y1="429.00" x2="55.20" y2="432.00" stroke="#222" stroke-width="1.0"/>
<text x="55.20" y="442.22" font-size="8.0" text-anchor="middle" fill="#222" stroke="#222" stroke-width="0.13" font-weight="normal" >0</text>
<line x1="105.20" y1="429.00" x2="105.20" y2="432.00" stroke="#222" stroke-width="1.0"/>
<text x="105.20" y="442.22" font-size="8.0" text-anchor="middle" fill="#222" stroke="#222" stroke-width="0.13" font-weight="normal" >2</text>
<line x1="155.20" y1="429.00" x2="155.20" y2="432.00" stroke="#222" stroke-width="1.0"/>
<text x="155.20" y="442.22" font-size="8.0" text-anchor="middle" fill="#222" stroke="#222" stroke-width="0.13" font-weight="normal" >4</text>
<line x1="205.20" y1="429.00" x2="205.20" y2="432.00" stroke="#222" stroke-width="1.0"/>
<text x="205.20" y="442.22" font-size="8.0" text-anchor="middle" fill="#222" stroke="#222" stroke-width="0.13" font-weight="normal" >6</text>
<text transform="translate(130.50,455.82) scale(0.615,1)" x="0" y="0" font-size="10.2" font-weight="bold" text-anchor="middle" fill="#222">Months from day 28 of second-line</text>
<text transform="translate(14.60,361.50) rotate(-90) scale(0.615,1)" x="0" y="0" font-size="10.2" font-weight="bold" text-anchor="middle" fill="#222">Cumulative incidence of NRM (%)</text>
<text x="58.30" y="307.04" font-size="7.8" text-anchor="start" fill="#222" stroke="#222" stroke-width="0.13" font-weight="normal" >6-month NRM (95% CI)</text>
<line x1="58.30" y1="308.20" x2="140.40" y2="308.20" stroke="#444" stroke-width="0.7"/>
<line x1="57.80" y1="314.40" x2="67.70" y2="314.40" stroke="#a8243f" stroke-width="1.0"/>
<text x="70.60" y="317.32" font-size="8.0" text-anchor="start" fill="#222" stroke="#222" stroke-width="0.13" font-weight="normal" >63.7% (55.8-70.5)</text>
<line x1="57.80" y1="323.35" x2="67.70" y2="323.35" stroke="#eeaa50" stroke-width="1.0"/>
<text x="70.60" y="326.27" font-size="8.0" text-anchor="start" fill="#222" stroke="#222" stroke-width="0.13" font-weight="normal" >45.3% (36.8-53.4)</text>
<line x1="57.80" y1="332.30" x2="67.70" y2="332.30" stroke="#5cb45a" stroke-width="1.0"/>
<text x="70.60" y="335.22" font-size="8.0" text-anchor="start" fill="#222" stroke="#222" stroke-width="0.13" font-weight="normal" >26.2% (14.0-40.3)</text>
<line x1="57.80" y1="341.25" x2="67.70" y2="341.25" stroke="#3a5a8e" stroke-width="1.0"/>
<text x="70.60" y="344.17" font-size="8.0" text-anchor="start" fill="#222" stroke="#222" stroke-width="0.13" font-weight="normal" >25.7% (18.9-32.9)</text>
<text x="193.30" y="301.24" font-size="7.8" text-anchor="middle" fill="#222" stroke="#222" stroke-width="0.13" font-weight="normal" >Proportion</text>
<path d="M193.00,321.20 L193.00,306.20 A15,15 0 0 1 205.99,328.70 Z" fill="#d5102c" stroke="#fff" stroke-width="0.4"/>
<path d="M193.00,321.20 L205.99,328.70 A15,15 0 0 1 183.03,332.41 Z" fill="#f39a1e" stroke="#fff" stroke-width="0.4"/>
<path d="M193.00,321.20 L183.03,332.41 A15,15 0 0 1 178.73,325.84 Z" fill="#3fb02e" stroke="#fff" stroke-width="0.4"/>
<path d="M193.00,321.20 L178.73,325.84 A15,15 0 0 1 193.00,306.20 Z" fill="#124d8c" stroke="#fff" stroke-width="0.4"/>
<circle cx="193.00" cy="321.20" r="15" fill="none" stroke="#333" stroke-opacity="0.5" stroke-width="0.4"/>
<polyline points="55.00,422.60 56.50,422.60 56.50,420.90 58.00,420.90 58.00,419.20 59.50,419.20 59.50,414.70 61.00,414.70 61.00,410.20 62.50,410.20 62.50,407.70 64.00,407.70 64.00,405.20 66.00,405.20 66.00,402.15 68.00,402.15 68.00,399.10 69.67,399.10 69.67,397.43 71.33,397.43 71.33,395.77 73.00,395.77 73.00,394.10 74.67,394.10 74.67,392.43 76.33,392.43 76.33,390.77 78.00,390.77 78.00,389.10 80.00,389.10 80.00,388.60 82.00,388.60 82.00,388.10 84.00,388.10 84.00,385.10 86.00,385.10 86.00,382.10 87.53,382.10 87.53,380.85 89.05,380.85 89.05,379.60 90.57,379.60 90.57,378.35 92.10,378.35 92.10,377.10 93.60,377.10 93.60,376.10 95.10,376.10 95.10,375.10 96.60,375.10 96.60,374.10 98.10,374.10 98.10,373.10 99.70,373.10 99.70,372.50 101.30,372.50 101.30,371.90 102.90,371.90 102.90,371.30 104.50,371.30 104.50,370.70 106.10,370.70 106.10,370.10 107.70,370.10 107.70,369.70 109.30,369.70 109.30,369.30 110.90,369.30 110.90,368.90 112.50,368.90 112.50,368.50 114.10,368.50 114.10,368.10 115.70,368.10 115.70,367.70 117.30,367.70 117.30,367.30 118.90,367.30 118.90,366.90 120.50,366.90 120.50,366.50 122.10,366.50 122.10,366.10 123.71,366.10 123.71,365.65 125.32,365.65 125.32,365.20 126.94,365.20 126.94,364.75 128.55,364.75 128.55,364.30 130.16,364.30 130.16,363.85 131.78,363.85 131.78,363.40 133.39,363.40 133.39,362.95 135.00,362.95 135.00,362.50 136.50,362.50 136.50,361.90 138.00,361.90 138.00,361.30 139.50,361.30 139.50,360.70 141.00,360.70 141.00,360.10 142.50,360.10 142.50,359.50 144.17,359.50 144.17,359.33 145.83,359.33 145.83,359.17 147.50,359.17 147.50,359.00 149.17,359.00 149.17,358.83 150.83,358.83 150.83,358.67 152.50,358.67 152.50,358.50 154.17,358.50 154.17,358.33 155.83,358.33 155.83,358.17 157.50,358.17 157.50,358.00 159.17,358.00 159.17,357.00 160.83,357.00 160.83,356.00 162.50,356.00 162.50,355.00 164.19,355.00 164.19,354.27 165.88,354.27 165.88,353.55 167.56,353.55 167.56,352.82 169.25,352.82 169.25,352.10 170.94,352.10 170.94,351.38 172.62,351.38 172.62,350.65 174.31,350.65 174.31,349.93 176.00,349.93 176.00,349.20 177.72,349.20 177.72,348.34 179.44,348.34 179.44,347.48 181.16,347.48 181.16,346.62 182.88,346.62 182.88,345.76 184.60,345.76 184.60,344.90 186.34,344.90 186.34,344.20 188.08,344.20 188.08,343.50 189.82,343.50 189.82,342.80 191.56,342.80 191.56,342.10 193.30,342.10 193.30,341.40 195.00,341.40 195.00,341.00 196.70,341.00 196.70,340.60 198.44,340.60 198.44,340.34 200.18,340.34 200.18,340.08 201.92,340.08 201.92,339.82 203.66,339.82 203.66,339.56 205.40,339.56 205.40,339.30" fill="none" stroke="#a8243f" stroke-width="0.95" stroke-linejoin="miter"/>
<polyline points="55.00,422.60 56.62,422.60 56.62,421.93 58.25,421.93 58.25,421.25 59.88,421.25 59.88,420.57 61.50,420.57 61.50,419.90 63.12,419.90 63.12,419.23 64.75,419.23 64.75,418.55 66.38,418.55 66.38,417.88 68.00,417.88 68.00,417.20 69.67,417.20 69.67,416.20 71.33,416.20 71.33,415.20 73.00,415.20 73.00,414.20 74.67,414.20 74.67,413.20 76.33,413.20 76.33,412.20 78.00,412.20 78.00,411.20 79.60,411.20 79.60,409.80 81.20,409.80 81.20,408.40 82.80,408.40 82.80,407.00 84.40,407.00 84.40,405.60 86.00,405.60 86.00,404.20 87.78,404.20 87.78,402.18 89.55,402.18 89.55,400.15 91.32,400.15 91.32,398.12 93.10,398.12 93.10,396.10 94.60,396.10 94.60,395.10 96.10,395.10 96.10,394.10 97.60,394.10 97.60,393.10 99.10,393.10 99.10,392.10 100.60,392.10 100.60,391.10 102.10,391.10 102.10,390.10 103.60,390.10 103.60,389.73 105.10,389.73 105.10,389.35 106.60,389.35 106.60,388.98 108.10,388.98 108.10,388.60 109.60,388.60 109.60,388.23 111.10,388.23 111.10,387.85 112.60,387.85 112.60,387.48 114.10,387.48 114.10,387.10 115.66,387.10 115.66,386.62 117.21,386.62 117.21,386.14 118.77,386.14 118.77,385.66 120.33,385.66 120.33,385.19 121.89,385.19 121.89,384.71 123.44,384.71 123.44,384.23 125.00,384.23 125.00,383.75 126.67,383.75 126.67,383.33 128.33,383.33 128.33,382.92 130.00,382.92 130.00,382.50 131.67,382.50 131.67,382.08 133.33,382.08 133.33,381.67 135.00,381.67 135.00,381.25 136.67,381.25 136.67,380.83 138.33,380.83 138.33,380.42 140.00,380.42 140.00,380.00 141.67,380.00 141.67,379.58 143.33,379.58 143.33,379.17 145.00,379.17 145.00,378.75 146.56,378.75 146.56,378.44 148.12,378.44 148.12,378.12 149.69,378.12 149.69,377.81 151.25,377.81 151.25,377.50 152.81,377.50 152.81,377.19 154.38,377.19 154.38,376.88 155.94,376.88 155.94,376.56 157.50,376.56 157.50,376.25 159.06,376.25 159.06,375.94 160.62,375.94 160.62,375.62 162.19,375.62 162.19,375.31 163.75,375.31 163.75,375.00 165.31,375.00 165.31,374.69 166.88,374.69 166.88,374.38 168.44,374.38 168.44,374.06 170.00,374.06 170.00,373.75 171.56,373.75 171.56,373.59 173.12,373.59 173.12,373.44 174.69,373.44 174.69,373.28 176.25,373.28 176.25,373.12 177.81,373.12 177.81,372.97 179.38,372.97 179.38,372.81 180.94,372.81 180.94,372.66 182.50,372.66 182.50,372.50 184.17,372.50 184.17,372.08 185.83,372.08 185.83,371.67 187.50,371.67 187.50,371.25 189.17,371.25 189.17,370.83 190.83,370.83 190.83,370.42 192.50,370.42 192.50,370.00 194.17,370.00 194.17,369.17 195.83,369.17 195.83,368.33 197.50,368.33 197.50,367.50 199.10,367.50 199.10,366.90 200.70,366.90 200.70,366.30 202.30,366.30 202.30,365.70 203.90,365.70 203.90,365.10 205.50,365.10 205.50,364.50" fill="none" stroke="#eeaa50" stroke-width="0.95" stroke-linejoin="miter"/>
<polyline points="55.00,422.60 79.00,422.60 79.00,417.60 85.80,417.60 85.80,414.40 87.46,414.40 87.46,414.38 89.13,414.38 89.13,414.36 90.79,414.36 90.79,414.35 92.45,414.35 92.45,414.33 94.12,414.33 94.12,414.31 95.78,414.31 95.78,414.29 97.45,414.29 97.45,414.27 99.11,414.27 99.11,414.25 100.77,414.25 100.77,414.24 102.44,414.24 102.44,414.22 104.10,414.22 104.10,414.20 104.10,411.80 106.10,411.80 106.10,410.50 108.10,410.50 108.10,409.20 109.60,409.20 109.60,409.07 111.10,409.07 111.10,408.95 112.60,408.95 112.60,408.82 114.10,408.82 114.10,408.70 115.60,408.70 115.60,408.57 117.10,408.57 117.10,408.45 118.60,408.45 118.60,408.32 120.10,408.32 120.10,408.20 121.60,408.20 121.60,406.70 123.10,406.70 123.10,405.20 124.67,405.20 124.67,404.96 126.23,404.96 126.23,404.72 127.80,404.72 127.80,404.48 129.37,404.48 129.37,404.23 130.93,404.23 130.93,403.99 132.50,403.99 132.50,403.75 133.75,403.75 133.75,401.88 135.00,401.88 135.00,400.00 145.00,400.00 146.25,400.00 146.25,398.75 147.50,398.75 147.50,397.50 167.50,397.50 168.75,397.50 168.75,393.00 180.00,393.00 181.25,393.00 181.25,390.00 192.50,390.00 193.75,390.00 193.75,388.75 205.50,388.75" fill="none" stroke="#5cb45a" stroke-width="0.95" stroke-linejoin="miter"/>
<polyline points="55.00,422.60 56.67,422.60 56.67,422.11 58.33,422.11 58.33,421.62 60.00,421.62 60.00,421.13 61.67,421.13 61.67,420.64 63.33,420.64 63.33,420.16 65.00,420.16 65.00,419.67 66.67,419.67 66.67,419.18 68.33,419.18 68.33,418.69 70.00,418.69 70.00,418.20 71.67,418.20 71.67,417.78 73.33,417.78 73.33,417.37 75.00,417.37 75.00,416.95 76.67,416.95 76.67,416.53 78.33,416.53 78.33,416.12 80.00,416.12 80.00,415.70 81.67,415.70 81.67,415.28 83.33,415.28 83.33,414.87 85.00,414.87 85.00,414.45 86.67,414.45 86.67,414.03 88.33,414.03 88.33,413.62 90.00,413.62 90.00,413.20 91.55,413.20 91.55,412.97 93.09,412.97 93.09,412.74 94.64,412.74 94.64,412.51 96.18,412.51 96.18,412.28 97.73,412.28 97.73,412.05 99.28,412.05 99.28,411.82 100.82,411.82 100.82,411.58 102.37,411.58 102.37,411.35 103.92,411.35 103.92,411.12 105.46,411.12 105.46,410.89 107.01,410.89 107.01,410.66 108.55,410.66 108.55,410.43 110.10,410.43 110.10,410.20 111.60,410.20 111.60,409.95 113.10,409.95 113.10,409.70 114.60,409.70 114.60,409.45 116.10,409.45 116.10,409.20 117.60,409.20 117.60,408.95 119.10,408.95 119.10,408.70 120.60,408.70 120.60,408.45 122.10,408.45 122.10,408.20 123.55,408.20 123.55,407.85 125.00,407.85 125.00,407.50 126.56,407.50 126.56,407.03 128.12,407.03 128.12,406.56 129.69,406.56 129.69,406.09 131.25,406.09 131.25,405.62 132.81,405.62 132.81,405.16 134.38,405.16 134.38,404.69 135.94,404.69 135.94,404.22 137.50,404.22 137.50,403.75 139.06,403.75 139.06,403.28 140.62,403.28 140.62,402.81 142.19,402.81 142.19,402.34 143.75,402.34 143.75,401.88 145.31,401.88 145.31,401.41 146.88,401.41 146.88,400.94 148.44,400.94 148.44,400.47 150.00,400.47 150.00,400.00 151.56,400.00 151.56,399.69 153.12,399.69 153.12,399.38 154.69,399.38 154.69,399.06 156.25,399.06 156.25,398.75 157.81,398.75 157.81,398.44 159.38,398.44 159.38,398.12 160.94,398.12 160.94,397.81 162.50,397.81 162.50,397.50 164.17,397.50 164.17,397.08 165.83,397.08 165.83,396.67 167.50,396.67 167.50,396.25 169.17,396.25 169.17,395.83 170.83,395.83 170.83,395.42 172.50,395.42 172.50,395.00 174.17,395.00 174.17,394.58 175.83,394.58 175.83,394.17 177.50,394.17 177.50,393.75 179.17,393.75 179.17,393.33 180.83,393.33 180.83,392.92 182.50,392.92 182.50,392.50 184.17,392.50 184.17,392.08 185.83,392.08 185.83,391.67 187.50,391.67 187.50,391.25 189.06,391.25 189.06,391.09 190.62,391.09 190.62,390.94 192.19,390.94 192.19,390.78 193.75,390.78 193.75,390.62 195.31,390.62 195.31,390.47 196.88,390.47 196.88,390.31 198.44,390.31 198.44,390.16 200.00,390.16 200.00,390.00 201.83,390.00 201.83,389.58 203.67,389.58 203.67,389.17 205.50,389.17 205.50,388.75" fill="none" stroke="#3a5a8e" stroke-width="0.95" stroke-linejoin="miter"/>
<text x="162.30" y="346.84" font-size="7.8" text-anchor="start" fill="#a8243f" stroke="#a8243f" stroke-width="0.13" font-weight="normal" >NR</text>
<text x="162.30" y="364.04" font-size="7.8" text-anchor="start" fill="#eeaa50" stroke="#eeaa50" stroke-width="0.13" font-weight="normal" >PR + Refined nonresponse</text>
<text x="162.30" y="385.04" font-size="7.8" text-anchor="start" fill="#5cb45a" stroke="#5cb45a" stroke-width="0.13" font-weight="normal" >PR + Refined Response</text>
<text x="162.30" y="409.04" font-size="7.8" text-anchor="start" fill="#3a5a8e" stroke="#3a5a8e" stroke-width="0.13" font-weight="normal" >CR</text>
<text x="48.00" y="467.54" font-size="7.8" text-anchor="start" fill="#222" stroke="#222" stroke-width="0.13" font-weight="normal" >Number at risk (number censored)</text>
<line x1="29.20" y1="477.00" x2="39.20" y2="477.00" stroke="#a8243f" stroke-width="0.9"/>
<text x="55.20" y="479.95" font-size="8.1" text-anchor="middle" fill="#222" stroke="#222" stroke-width="0.13" font-weight="normal" letter-spacing="0.1">170 (0)</text>
<text x="105.20" y="479.95" font-size="8.1" text-anchor="middle" fill="#222" stroke="#222" stroke-width="0.13" font-weight="normal" letter-spacing="0.1">91 (9)</text>
<text x="155.20" y="479.95" font-size="8.1" text-anchor="middle" fill="#222" stroke="#222" stroke-width="0.13" font-weight="normal" letter-spacing="0.1">70 (15)</text>
<text x="205.20" y="479.95" font-size="8.1" text-anchor="middle" fill="#222" stroke="#222" stroke-width="0.13" font-weight="normal" letter-spacing="0.1">43 (20)</text>
<line x1="29.20" y1="488.85" x2="39.20" y2="488.85" stroke="#eeaa50" stroke-width="0.9"/>
<text x="55.20" y="491.80" font-size="8.1" text-anchor="middle" fill="#222" stroke="#222" stroke-width="0.13" font-weight="normal" letter-spacing="0.1">144 (0)</text>
<text x="105.20" y="491.80" font-size="8.1" text-anchor="middle" fill="#222" stroke="#222" stroke-width="0.13" font-weight="normal" letter-spacing="0.1">99 (8)</text>
<text x="155.20" y="491.80" font-size="8.1" text-anchor="middle" fill="#222" stroke="#222" stroke-width="0.13" font-weight="normal" letter-spacing="0.1">80 (12)</text>
<text x="205.20" y="491.80" font-size="8.1" text-anchor="middle" fill="#222" stroke="#222" stroke-width="0.13" font-weight="normal" letter-spacing="0.1">66 (15)</text>
<line x1="29.20" y1="500.70" x2="39.20" y2="500.70" stroke="#5cb45a" stroke-width="0.9"/>
<text x="55.20" y="503.65" font-size="8.1" text-anchor="middle" fill="#222" stroke="#222" stroke-width="0.13" font-weight="normal" letter-spacing="0.1">43 (0)</text>
<text x="105.20" y="503.65" font-size="8.1" text-anchor="middle" fill="#222" stroke="#222" stroke-width="0.13" font-weight="normal" letter-spacing="0.1">37 (2)</text>
<text x="155.20" y="503.65" font-size="8.1" text-anchor="middle" fill="#222" stroke="#222" stroke-width="0.13" font-weight="normal" letter-spacing="0.1">30 (4)</text>
<text x="205.20" y="503.65" font-size="8.1" text-anchor="middle" fill="#222" stroke="#222" stroke-width="0.13" font-weight="normal" letter-spacing="0.1">25 (7)</text>
<line x1="29.20" y1="512.55" x2="39.20" y2="512.55" stroke="#3a5a8e" stroke-width="0.9"/>
<text x="55.20" y="515.50" font-size="8.1" text-anchor="middle" fill="#222" stroke="#222" stroke-width="0.13" font-weight="normal" letter-spacing="0.1">153 (0)</text>
<text x="105.20" y="515.50" font-size="8.1" text-anchor="middle" fill="#222" stroke="#222" stroke-width="0.13" font-weight="normal" letter-spacing="0.1">128 (11)</text>
<text x="155.20" y="515.50" font-size="8.1" text-anchor="middle" fill="#222" stroke="#222" stroke-width="0.13" font-weight="normal" letter-spacing="0.1">110 (17)</text>
<text x="205.20" y="515.50" font-size="8.1" text-anchor="middle" fill="#222" stroke="#222" stroke-width="0.13" font-weight="normal" letter-spacing="0.1">91 (24)</text>
<text x="281.00" y="279.40" font-size="10.8" font-weight="bold" fill="#111">D</text>
<text x="403.40" y="288.94" font-size="7.8" text-anchor="middle" fill="#222" stroke="#222" stroke-width="0.13" font-weight="normal" >MAGIC Second-line treatment</text>
<line x1="320.50" y1="294.30" x2="320.50" y2="429.60" stroke="#222" stroke-width="1.2"/>
<line x1="319.90" y1="429.20" x2="486.40" y2="429.20" stroke="#222" stroke-width="1.2"/>
<line x1="317.50" y1="300.70" x2="320.50" y2="300.70" stroke="#222" stroke-width="1.0"/>
<text x="314.40" y="303.52" font-size="8.0" text-anchor="end" fill="#222" stroke="#222" stroke-width="0.13" font-weight="normal" >100%</text>
<line x1="317.50" y1="325.14" x2="320.50" y2="325.14" stroke="#222" stroke-width="1.0"/>
<text x="314.40" y="327.96" font-size="8.0" text-anchor="end" fill="#222" stroke="#222" stroke-width="0.13" font-weight="normal" >80%</text>
<line x1="317.50" y1="349.58" x2="320.50" y2="349.58" stroke="#222" stroke-width="1.0"/>
<text x="314.40" y="352.40" font-size="8.0" text-anchor="end" fill="#222" stroke="#222" stroke-width="0.13" font-weight="normal" >60%</text>
<line x1="317.50" y1="374.02" x2="320.50" y2="374.02" stroke="#222" stroke-width="1.0"/>
<text x="314.40" y="376.84" font-size="8.0" text-anchor="end" fill="#222" stroke="#222" stroke-width="0.13" font-weight="normal" >40%</text>
<line x1="317.50" y1="398.46" x2="320.50" y2="398.46" stroke="#222" stroke-width="1.0"/>
<text x="314.40" y="401.28" font-size="8.0" text-anchor="end" fill="#222" stroke="#222" stroke-width="0.13" font-weight="normal" >20%</text>
<line x1="317.50" y1="422.90" x2="320.50" y2="422.90" stroke="#222" stroke-width="1.0"/>
<text x="314.40" y="425.72" font-size="8.0" text-anchor="end" fill="#222" stroke="#222" stroke-width="0.13" font-weight="normal" >0%</text>
<line x1="328.20" y1="429.00" x2="328.20" y2="432.00" stroke="#222" stroke-width="1.0"/>
<text x="328.20" y="442.22" font-size="8.0" text-anchor="middle" fill="#222" stroke="#222" stroke-width="0.13" font-weight="normal" >0</text>
<line x1="378.20" y1="429.00" x2="378.20" y2="432.00" stroke="#222" stroke-width="1.0"/>
<text x="378.20" y="442.22" font-size="8.0" text-anchor="middle" fill="#222" stroke="#222" stroke-width="0.13" font-weight="normal" >2</text>
<line x1="428.20" y1="429.00" x2="428.20" y2="432.00" stroke="#222" stroke-width="1.0"/>
<text x="428.20" y="442.22" font-size="8.0" text-anchor="middle" fill="#222" stroke="#222" stroke-width="0.13" font-weight="normal" >4</text>
<line x1="478.20" y1="429.00" x2="478.20" y2="432.00" stroke="#222" stroke-width="1.0"/>
<text x="478.20" y="442.22" font-size="8.0" text-anchor="middle" fill="#222" stroke="#222" stroke-width="0.13" font-weight="normal" >6</text>
<text transform="translate(403.50,455.82) scale(0.615,1)" x="0" y="0" font-size="10.2" font-weight="bold" text-anchor="middle" fill="#222">Months from day 28 of second-line</text>
<text transform="translate(287.60,361.50) rotate(-90) scale(0.615,1)" x="0" y="0" font-size="10.2" font-weight="bold" text-anchor="middle" fill="#222">Cumulative incidence of NRM (%)</text>
<text x="331.30" y="307.04" font-size="7.8" text-anchor="start" fill="#222" stroke="#222" stroke-width="0.13" font-weight="normal" >6-month NRM (95% CI)</text>
<line x1="331.30" y1="308.20" x2="413.40" y2="308.20" stroke="#444" stroke-width="0.7"/>
<line x1="330.80" y1="314.40" x2="340.70" y2="314.40" stroke="#a8243f" stroke-width="1.0"/>
<text x="343.60" y="317.32" font-size="8.0" text-anchor="start" fill="#222" stroke="#222" stroke-width="0.13" font-weight="normal" >53.1% (44.4-61.7)</text>
<line x1="330.80" y1="323.35" x2="340.70" y2="323.35" stroke="#eeaa50" stroke-width="1.0"/>
<text x="343.60" y="326.27" font-size="8.0" text-anchor="start" fill="#222" stroke="#222" stroke-width="0.13" font-weight="normal" >58.8% (31.1-78.6)</text>
<line x1="330.80" y1="332.30" x2="340.70" y2="332.30" stroke="#5cb45a" stroke-width="1.0"/>
<text x="343.60" y="335.22" font-size="8.0" text-anchor="start" fill="#222" stroke="#222" stroke-width="0.13" font-weight="normal" >0.0% (0.0-0.0)</text>
<line x1="330.80" y1="341.25" x2="340.70" y2="341.25" stroke="#3a5a8e" stroke-width="1.0"/>
<text x="343.60" y="344.17" font-size="8.0" text-anchor="start" fill="#222" stroke="#222" stroke-width="0.13" font-weight="normal" >16.3% (7.5-28.0)</text>
<text x="466.20" y="301.24" font-size="7.8" text-anchor="middle" fill="#222" stroke="#222" stroke-width="0.13" font-weight="normal" >Proportion</text>
<path d="M463.80,321.20 L463.80,306.20 A15,15 0 1 1 454.83,333.22 Z" fill="#d5102c" stroke="#fff" stroke-width="0.4"/>
<path d="M463.80,321.20 L454.83,333.22 A15,15 0 0 1 449.90,326.83 Z" fill="#f39a1e" stroke="#fff" stroke-width="0.4"/>
<path d="M463.80,321.20 L449.90,326.83 A15,15 0 0 1 448.83,322.16 Z" fill="#3fb02e" stroke="#fff" stroke-width="0.4"/>
<path d="M463.80,321.20 L448.83,322.16 A15,15 0 0 1 463.80,306.20 Z" fill="#124d8c" stroke="#fff" stroke-width="0.4"/>
<circle cx="463.80" cy="321.20" r="15" fill="none" stroke="#333" stroke-opacity="0.5" stroke-width="0.4"/>
<polyline points="328.70,422.60 330.20,422.60 330.20,416.20 332.00,416.20 332.00,413.50 333.35,413.50 333.35,412.15 334.70,412.15 334.70,410.80 336.50,410.80 336.50,407.20 338.30,407.20 338.30,405.35 340.10,405.35 340.10,403.50 341.95,403.50 341.95,402.60 343.80,402.60 343.80,401.70 347.40,401.70 349.20,401.70 349.20,399.90 351.00,399.90 351.00,398.10 352.85,398.10 352.85,396.25 354.70,396.25 354.70,394.40 356.50,394.40 356.50,391.70 358.30,391.70 358.30,389.00 360.10,389.00 360.10,386.30 361.90,386.30 361.90,383.60 363.75,383.60 363.75,382.20 365.60,382.20 365.60,380.80 367.40,380.80 367.40,380.35 369.20,380.35 369.20,379.90 371.00,379.90 371.00,379.45 372.80,379.45 372.80,379.00 374.60,379.00 374.60,378.55 376.40,378.55 376.40,378.10 377.86,378.10 377.86,377.92 379.32,377.92 379.32,377.74 380.78,377.74 380.78,377.56 382.24,377.56 382.24,377.38 383.70,377.38 383.70,377.20 385.50,377.20 385.50,376.30 387.30,376.30 387.30,375.40 389.15,375.40 389.15,374.50 391.00,374.50 391.00,373.60 392.80,373.60 392.80,371.80 394.60,371.80 394.60,370.00 396.40,370.00 396.40,369.05 398.20,369.05 398.20,368.10 399.60,368.10 399.60,366.60 401.00,366.60 401.00,365.10 402.50,365.10 402.50,364.40 404.00,364.40 404.00,363.70 406.00,363.70 406.00,362.90 408.00,362.90 408.00,362.10 409.67,362.10 409.67,361.93 411.33,361.93 411.33,361.77 413.00,361.77 413.00,361.60 414.67,361.60 414.67,361.43 416.33,361.43 416.33,361.27 418.00,361.27 418.00,361.10 419.57,361.10 419.57,360.99 421.13,360.99 421.13,360.88 422.70,360.88 422.70,360.77 424.27,360.77 424.27,360.66 425.83,360.66 425.83,360.54 427.40,360.54 427.40,360.43 428.97,360.43 428.97,360.32 430.53,360.32 430.53,360.21 432.10,360.21 432.10,360.10 458.10,360.10 459.77,360.10 459.77,360.03 461.43,360.03 461.43,359.97 463.10,359.97 463.10,359.90 464.77,359.90 464.77,359.83 466.43,359.83 466.43,359.77 468.10,359.77 468.10,359.70 469.10,359.70 469.10,357.70 470.80,357.70 470.80,357.37 472.50,357.37 472.50,357.03 474.20,357.03 474.20,356.70 476.20,356.70 476.20,355.85 478.20,355.85 478.20,355.00" fill="none" stroke="#a8243f" stroke-width="0.95" stroke-linejoin="miter"/>
<polyline points="328.70,422.60 331.10,422.60 332.00,419.90 333.80,419.90 334.70,416.20 337.40,414.40 337.40,408.60 353.80,408.60 353.80,401.70 372.50,401.70 372.50,386.30 386.40,386.30 386.40,379.00 397.30,379.00 397.30,370.00 400.90,365.40 408.00,363.10 408.00,358.10 457.10,358.10 457.10,350.40 478.20,350.40" fill="none" stroke="#eeaa50" stroke-width="0.95" stroke-linejoin="miter"/>
<polyline points="328.70,422.60 478.20,422.60" fill="none" stroke="#5cb45a" stroke-width="0.95" stroke-linejoin="miter"/>
<polyline points="328.70,422.60 330.20,419.90 334.70,419.90 334.70,418.00 350.10,418.00 350.10,413.00 369.20,413.00 369.20,410.40 384.60,410.40 384.60,407.50 424.00,407.50 424.00,405.10 432.10,405.10 433.10,402.10 478.20,402.10" fill="none" stroke="#3a5a8e" stroke-width="0.95" stroke-linejoin="miter"/>
<text x="412.80" y="347.34" font-size="7.8" text-anchor="start" fill="#eeaa50" stroke="#eeaa50" stroke-width="0.13" font-weight="normal" >PR + Refined nonresponse</text>
<text x="412.80" y="371.14" font-size="7.8" text-anchor="start" fill="#a8243f" stroke="#a8243f" stroke-width="0.13" font-weight="normal" >NR</text>
<text x="412.80" y="403.84" font-size="7.8" text-anchor="start" fill="#3a5a8e" stroke="#3a5a8e" stroke-width="0.13" font-weight="normal" >CR</text>
<text x="412.80" y="418.94" font-size="7.8" text-anchor="start" fill="#5cb45a" stroke="#5cb45a" stroke-width="0.13" font-weight="normal" >PR + Refined Response</text>
<text x="321.00" y="467.54" font-size="7.8" text-anchor="start" fill="#222" stroke="#222" stroke-width="0.13" font-weight="normal" >Number at risk (number censored)</text>
<line x1="302.20" y1="477.00" x2="312.20" y2="477.00" stroke="#a8243f" stroke-width="0.9"/>
<text x="328.20" y="479.95" font-size="8.1" text-anchor="middle" fill="#222" stroke="#222" stroke-width="0.13" font-weight="normal" letter-spacing="0.1">118 (0)</text>
<text x="378.20" y="479.95" font-size="8.1" text-anchor="middle" fill="#222" stroke="#222" stroke-width="0.13" font-weight="normal" letter-spacing="0.1">70 (6)</text>
<text x="428.20" y="479.95" font-size="8.1" text-anchor="middle" fill="#222" stroke="#222" stroke-width="0.13" font-weight="normal" letter-spacing="0.1">52 (9)</text>
<text x="478.20" y="479.95" font-size="8.1" text-anchor="middle" fill="#222" stroke="#222" stroke-width="0.13" font-weight="normal" letter-spacing="0.1">45 (11)</text>
<line x1="302.20" y1="488.85" x2="312.20" y2="488.85" stroke="#eeaa50" stroke-width="0.9"/>
<text x="328.20" y="491.80" font-size="8.1" text-anchor="middle" fill="#222" stroke="#222" stroke-width="0.13" font-weight="normal" letter-spacing="0.1">17 (0)</text>
<text x="378.20" y="491.80" font-size="8.1" text-anchor="middle" fill="#222" stroke="#222" stroke-width="0.13" font-weight="normal" letter-spacing="0.1">12 (0)</text>
<text x="428.20" y="491.80" font-size="8.1" text-anchor="middle" fill="#222" stroke="#222" stroke-width="0.13" font-weight="normal" letter-spacing="0.1">8 (0)</text>
<text x="478.20" y="491.80" font-size="8.1" text-anchor="middle" fill="#222" stroke="#222" stroke-width="0.13" font-weight="normal" letter-spacing="0.1">7 (0)</text>
<line x1="302.20" y1="500.70" x2="312.20" y2="500.70" stroke="#5cb45a" stroke-width="0.9"/>
<text x="328.20" y="503.65" font-size="8.1" text-anchor="middle" fill="#222" stroke="#222" stroke-width="0.13" font-weight="normal" letter-spacing="0.1">10 (0)</text>
<text x="378.20" y="503.65" font-size="8.1" text-anchor="middle" fill="#222" stroke="#222" stroke-width="0.13" font-weight="normal" letter-spacing="0.1">8 (2)</text>
<text x="428.20" y="503.65" font-size="8.1" text-anchor="middle" fill="#222" stroke="#222" stroke-width="0.13" font-weight="normal" letter-spacing="0.1">7 (3)</text>
<text x="478.20" y="503.65" font-size="8.1" text-anchor="middle" fill="#222" stroke="#222" stroke-width="0.13" font-weight="normal" letter-spacing="0.1">7 (3)</text>
<line x1="302.20" y1="512.55" x2="312.20" y2="512.55" stroke="#3a5a8e" stroke-width="0.9"/>
<text x="328.20" y="515.50" font-size="8.1" text-anchor="middle" fill="#222" stroke="#222" stroke-width="0.13" font-weight="normal" letter-spacing="0.1">51 (0)</text>
<text x="378.20" y="515.50" font-size="8.1" text-anchor="middle" fill="#222" stroke="#222" stroke-width="0.13" font-weight="normal" letter-spacing="0.1">43 (3)</text>
<text x="428.20" y="515.50" font-size="8.1" text-anchor="middle" fill="#222" stroke="#222" stroke-width="0.13" font-weight="normal" letter-spacing="0.1">39 (5)</text>
<text x="478.20" y="515.50" font-size="8.1" text-anchor="middle" fill="#222" stroke="#222" stroke-width="0.13" font-weight="normal" letter-spacing="0.1">33 (10)</text>
<rect x="0.5" y="0.5" width="519" height="523" fill="none" stroke="#5a5a5a" stroke-width="1.2"/>
</svg></body></html>
